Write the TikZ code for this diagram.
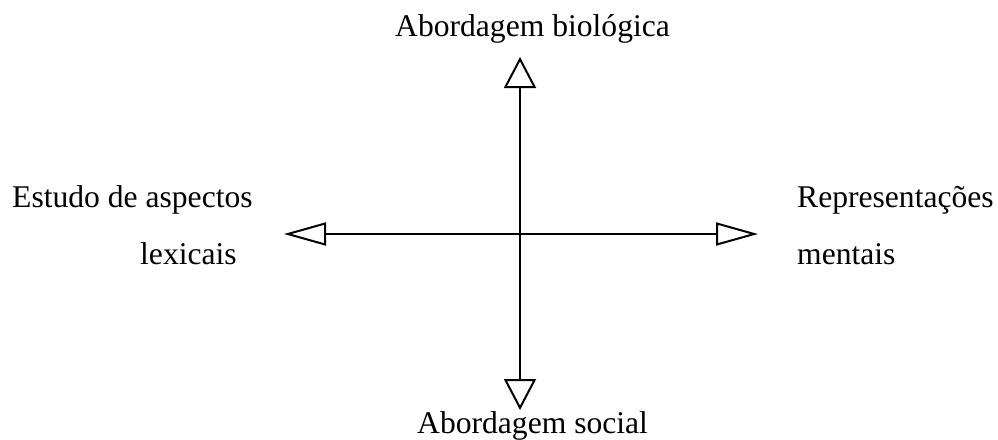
\documentclass[tikz,border=0pt]{standalone}
\usepackage{fontspec}
\setmainfont{Liberation Serif}
\usetikzlibrary{arrows.meta}
\begin{document}
\begin{tikzpicture}[x=1pt,y=-1pt,
  lbl/.style={inner sep=0pt, anchor=base west, font=\fontsize{31.6}{38}\selectfont},
  axisline/.style={line width=2pt, black},
  vtip/.style={-{Triangle[open, length=31pt, width=32pt, fill=white]}},
  htip/.style={-{Triangle[open, length=42pt, width=23pt, fill=white]}}]
\useasboundingbox (0,0) rectangle (998,439);
\coordinate (c) at (520,234);
\coordinate (top) at (520,57);
\coordinate (bot) at (520,410);
\coordinate (lft) at (284,234);
\coordinate (rgt) at (758,234);
\draw[axisline, vtip] (c) -- (top);
\draw[axisline, vtip] (c) -- (bot);
\draw[axisline, htip] (c) -- (lft);
\draw[axisline, htip] (c) -- (rgt);
\node[lbl] (bio) at (395,36) {Abordagem biológica};
\node[lbl] (soc) at (417,433) {Abordagem social};
\node[lbl] (est1) at (12,207) {Estudo de aspectos};
\node[lbl] (est2) at (140,264) {lexicais};
\node[lbl] (rep1) at (797,207) {Representações};
\node[lbl] (rep2) at (797,264) {mentais};
\end{tikzpicture}
\end{document}
